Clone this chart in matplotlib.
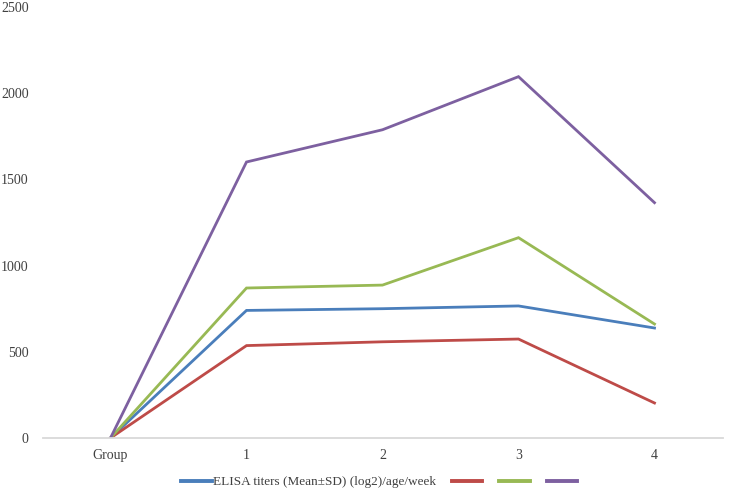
import matplotlib
matplotlib.use("Agg")
import matplotlib.pyplot as plt
from matplotlib.lines import Line2D

categories = ["Group", "1", "2", "3", "4"]
series_labels = ["ELISA titers (Mean±SD) (log2)/age/week", "", "", ""]
blue = [0, 740, 750, 766, 638]
red = [0, 536, 558, 574, 203]
green = [0, 870, 887, 1162, 661]
purple = [0, 1601, 1788, 2096, 1365]
yticks = [0, 500, 1000, 1500, 2000, 2500]

colors = ["#4a7ebb", "#be4b48", "#98b954", "#7d60a0"]
data = [blue, red, green, purple]

plt.rcParams['font.family'] = ['Liberation Serif', 'DejaVu Serif']
fig = plt.figure(figsize=(7.49, 4.91), dpi=100)
ax = fig.add_axes([42.5/749, 53/491, 680/749, 431/491])

x = list(range(len(categories)))
handles = []
for vals, c, lab in zip(data, colors, series_labels):
    ax.plot(x, vals, color=c, lw=2.0, solid_joinstyle='miter', label=lab)
    handles.append(Line2D([], [], color=c, lw=2.8))

ax.set_xlim(-0.5, len(categories) - 0.5)
ax.set_ylim(0, 2500)
ax.set_yticks(yticks)
ax.set_yticklabels([str(v) for v in yticks])
ax.set_xticks(x)
ax.set_xticklabels(categories)
for s in ["top", "right", "left"]:
    ax.spines[s].set_visible(False)
ax.spines["bottom"].set_color("#d9d9d9")
ax.spines["bottom"].set_linewidth(1.3)
ax.tick_params(axis="both", length=0, labelsize=10, colors="#404040")
ax.tick_params(axis="y", pad=10)
ax.tick_params(axis="x", pad=8)

fig.legend(handles, series_labels, loc="center", bbox_to_anchor=(380/749, 1 - 482/491),
           ncol=4, frameon=False, fontsize=9.5, handlelength=2.3, handletextpad=0.1,
           columnspacing=1.2, labelcolor="#404040")

fig.savefig("out.png", dpi=100)
